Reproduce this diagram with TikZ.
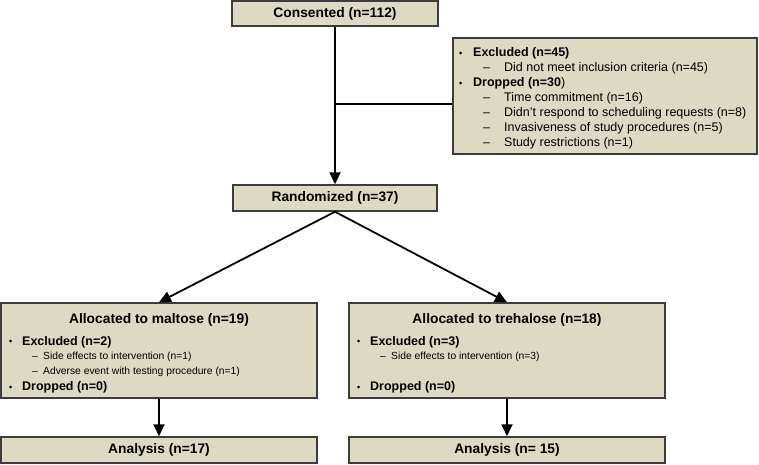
\documentclass[tikz,border=0pt]{standalone}
\usepackage{fontspec}
\setmainfont{Liberation Sans}
\usetikzlibrary{arrows.meta}
\definecolor{boxfill}{HTML}{DDD9C3}
\definecolor{boxborder}{HTML}{3C3C3C}
\newcommand{\bul}[1]{\makebox[#1][l]{\fontsize{9}{9}\selectfont\raisebox{0.5pt}{•}}}
\newcommand{\dsh}[1]{\makebox[#1][l]{–}}
\tikzset{
  box/.style={draw=boxborder, fill=boxfill, line width=1.5pt, inner sep=0pt},
  ttl/.style={font=\fontsize{13.8}{16}\selectfont\bfseries},
  itm/.style={anchor=base west, inner sep=0pt, font=\fontsize{12.5}{15}\selectfont\bfseries},
  subl/.style={anchor=base west, inner sep=0pt, font=\fontsize{12.5}{15}\selectfont},
  subs/.style={anchor=base west, inner sep=0pt, font=\fontsize{10.3}{12}\selectfont},
  conn/.style={line width=1.8pt, black},
  arr/.style={conn, -{Triangle[length=12pt,width=11pt]}}
}
\begin{document}
\begin{tikzpicture}[x=1pt,y=-1pt]
\useasboundingbox (0,0) rectangle (759,464);
% boxes
\node[box, ttl, minimum width=206, minimum height=25] (cons) at (335,13.5) {Consented (n=112)};
\node[box, minimum width=304, minimum height=116] (excl) at (605,96) {};
\node[box, ttl, minimum width=204, minimum height=26] (rand) at (335,198) {Randomized (n=37)};
\node[box, minimum width=316, minimum height=95] (malt) at (159,350.5) {};
\node[box, minimum width=316, minimum height=95] (treh) at (507,350.5) {};
\node[box, ttl, minimum width=316, minimum height=26] (an1) at (159,450) {Analysis (n=17)};
\node[box, ttl, minimum width=316, minimum height=26] (an2) at (507,450) {Analysis (n= 15)};
% excluded box text
\node[itm] (e1) at (459,56.5) {\bul{14pt}Excluded (n=45)};
\node[subl] (e2) at (483,71.5) {\dsh{21pt}Did not meet inclusion criteria (n=45)};
\node[itm] (e3) at (459,86.5) {\bul{14pt}Dropped (n=30\textmd{)}};
\node[subl] (e4) at (483,101.5) {\dsh{21pt}Time commitment (n=16)};
\node[subl] (e5) at (483,116.5) {\dsh{21pt}Didn’t respond to scheduling requests (n=8)};
\node[subl] (e6) at (483,131.5) {\dsh{21pt}Invasiveness of study procedures (n=5)};
\node[subl] (e7) at (483,146.5) {\dsh{21pt}Study restrictions (n=1)};
% maltose box text
\node[ttl, anchor=base] (mt) at (159,323) {Allocated to maltose (n=19)};
\node[itm] (m1) at (9,345) {\bul{13pt}Excluded (n=2)};
\node[subs] (m2) at (32,359.7) {\dsh{11pt}Side effects to intervention (n=1)};
\node[subs] (m3) at (32,374.7) {\dsh{11pt}Adverse event with testing procedure (n=1)};
\node[itm] (m4) at (9,390.5) {\bul{13pt}Dropped (n=0)};
% trehalose box text
\node[ttl, anchor=base] (tt) at (507,323) {Allocated to trehalose (n=18)};
\node[itm] (t1) at (357,345) {\bul{13pt}Excluded (n=3)};
\node[subs] (t2) at (380,359.7) {\dsh{11pt}Side effects to intervention (n=3)};
\node[itm] (t4) at (357,390.5) {\bul{13pt}Dropped (n=0)};
% connectors
\draw[arr] (cons.south) -- (rand.north);
\coordinate (br) at (335,104);
\draw[conn] (br) -- (br -| excl.west);
\draw[arr] (rand.south) -- (malt.north);
\draw[arr] (rand.south) -- (treh.north);
\draw[arr] (malt.south) -- (an1.north);
\draw[arr] (treh.south) -- (an2.north);
\end{tikzpicture}
\end{document}
